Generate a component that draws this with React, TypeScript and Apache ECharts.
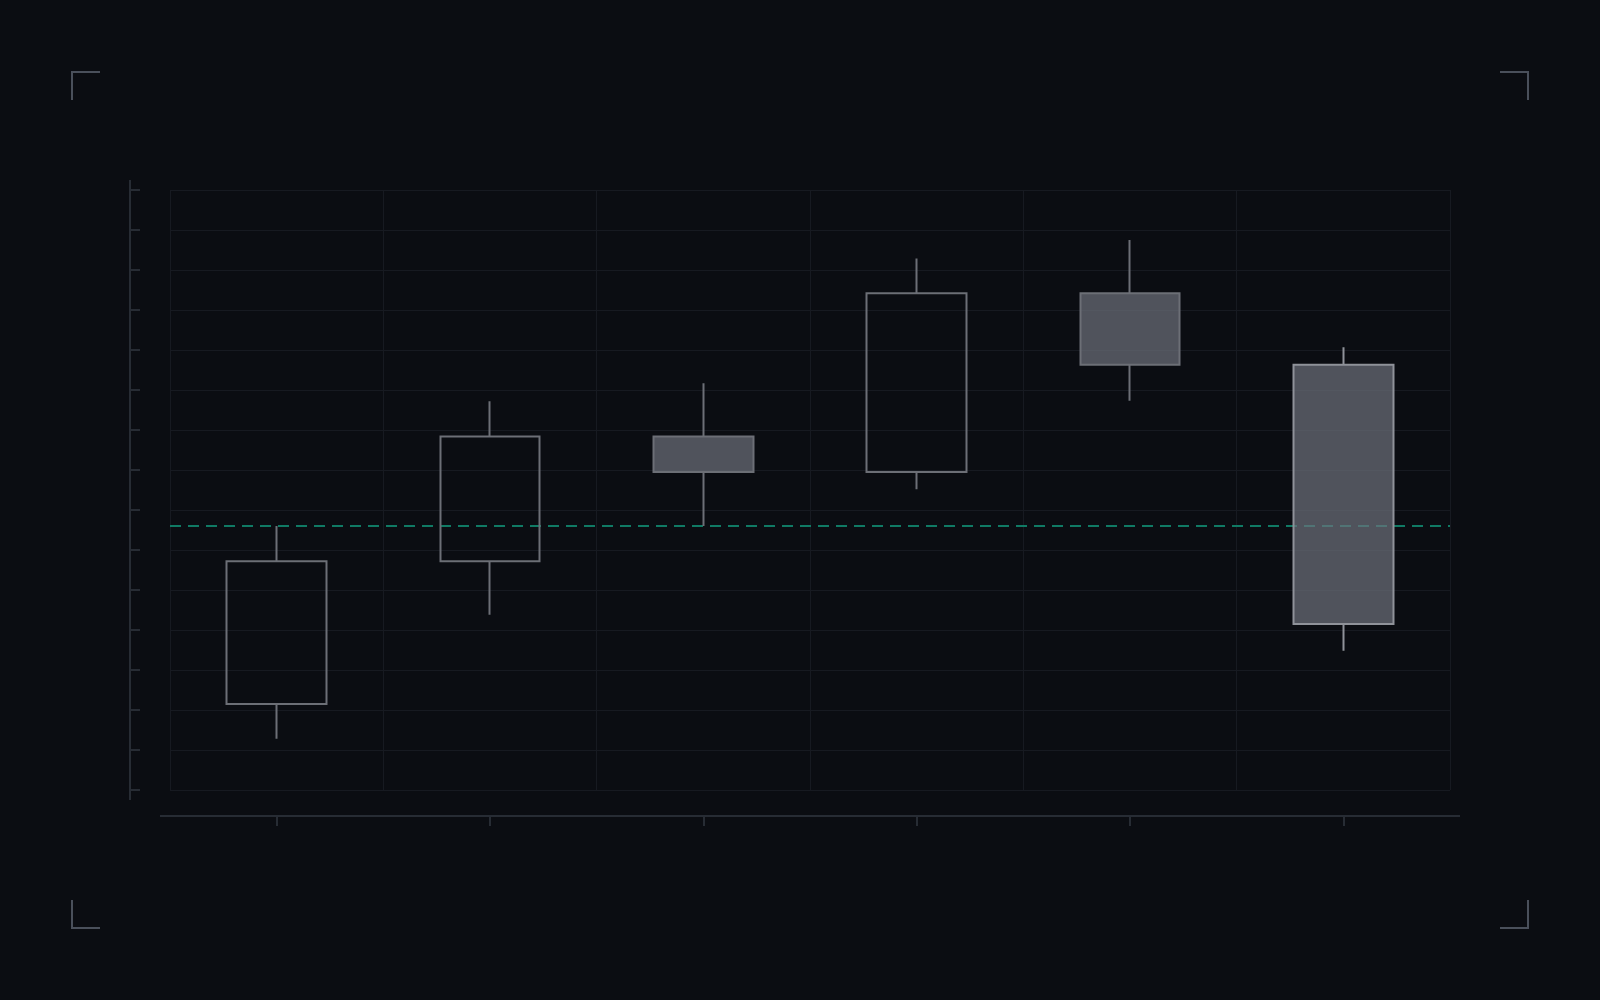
import React, { useEffect, useRef } from 'react';
import * as echarts from 'echarts';

// candles: open / close / low / high
const categories = ['1', '2', '3', '4', '5', '6'];
const opens = [21.5, 57.2, 88.4, 79.5, 124.2, 106.3];
const closes = [57.2, 88.4, 79.5, 124.2, 106.3, 41.5];
const lows = [12.8, 43.8, 66, 75.2, 97.3, 34.8];
const highs = [66, 97.2, 101.7, 132.9, 137.5, 110.7];
const referenceLevel = 66;
const yTicks = { min: 0, max: 150, interval: 10 };

const BG = '#0b0d12';
const GRID_LINE = '#171a21';
const AXIS_LINE = '#272c34';
const BRACKET = '#4a505b';
const CANDLE_BORDER = '#6c6f76';
const LAST_BORDER = '#8f9299';
const CANDLE_FILL = 'rgba(110,114,124,0.7)';
const REF_COLOR = '#107a64';

const W = 1600;
const H = 1000;
const G = { left: 170, top: 190, right: 1450, bottom: 790 };

const App: React.FC = () => {
  const chartRef = useRef<HTMLDivElement>(null);

  useEffect(() => {
    if (!chartRef.current) return;
    const chart = echarts.init(chartRef.current, undefined, { renderer: 'svg' });

    const candles = categories.map((_, i) => {
      const item: any = { value: [opens[i], closes[i], lows[i], highs[i]] };
      if (i === categories.length - 1) {
        item.itemStyle = { borderColor0: LAST_BORDER, borderColor: LAST_BORDER };
      }
      return item;
    });

    const bracket = (pts: number[][]) => ({
      type: 'polyline',
      shape: { points: pts },
      style: { stroke: BRACKET, lineWidth: 2, fill: null },
      silent: true
    });

    chart.setOption({
      animation: false,
      backgroundColor: BG,
      grid: {
        left: G.left,
        top: G.top,
        width: G.right - G.left,
        height: G.bottom - G.top,
        containLabel: false
      },
      xAxis: [
        {
          type: 'category',
          data: categories,
          boundaryGap: true,
          offset: 26,
          axisLine: { show: false, onZero: false },
          axisTick: {
            show: true,
            alignWithLabel: true,
            length: 10,
            lineStyle: { color: AXIS_LINE, width: 2 }
          },
          axisLabel: { show: false },
          splitLine: { show: true, lineStyle: { color: GRID_LINE, width: 1 } }
        },
        {
          // helper axis so the reference line spans the whole plot width
          type: 'value',
          min: 0,
          max: 1,
          show: false
        }
      ],
      yAxis: {
        type: 'value',
        min: yTicks.min,
        max: yTicks.max,
        interval: yTicks.interval,
        offset: 40,
        axisLine: { show: false, onZero: false },
        axisTick: {
          show: true,
          inside: true,
          length: 10,
          lineStyle: { color: AXIS_LINE, width: 2 }
        },
        axisLabel: { show: false },
        splitLine: { show: true, lineStyle: { color: GRID_LINE, width: 1 } }
      },
      series: [
        {
          type: 'line',
          xAxisIndex: 1,
          data: [[0, referenceLevel], [1, referenceLevel]],
          symbol: 'none',
          silent: true,
          z: 1,
          lineStyle: { color: REF_COLOR, width: 2, type: [11, 7] }
        },
        {
          type: 'candlestick',
          data: candles,
          barWidth: 100,
          z: 2,
          itemStyle: {
            color: 'transparent',
            color0: CANDLE_FILL,
            borderColor: CANDLE_BORDER,
            borderColor0: CANDLE_BORDER,
            borderWidth: 2
          }
        }
      ],
      graphic: [
        {
          type: 'line',
          shape: { x1: 130, y1: G.top - 10, x2: 130, y2: G.bottom + 10 },
          style: { stroke: AXIS_LINE, lineWidth: 2 },
          silent: true
        },
        {
          type: 'line',
          shape: { x1: G.left - 10, y1: G.bottom + 26, x2: G.right + 10, y2: G.bottom + 26 },
          style: { stroke: AXIS_LINE, lineWidth: 2 },
          silent: true
        },
        bracket([[72, 100], [72, 72], [100, 72]]),
        bracket([[W - 100, 72], [W - 72, 72], [W - 72, 100]]),
        bracket([[72, H - 100], [72, H - 72], [100, H - 72]]),
        bracket([[W - 100, H - 72], [W - 72, H - 72], [W - 72, H - 100]])
      ]
    });

    const handleResize = () => chart.resize();
    window.addEventListener('resize', handleResize);

    return () => {
      window.removeEventListener('resize', handleResize);
      chart.dispose();
    };
  }, []);

  return (
    <div
      ref={chartRef}
      style={{
        position: 'fixed',
        left: 0,
        top: 0,
        width: W,
        height: H,
        background: BG
      }}
    />
  );
};

export default App;
